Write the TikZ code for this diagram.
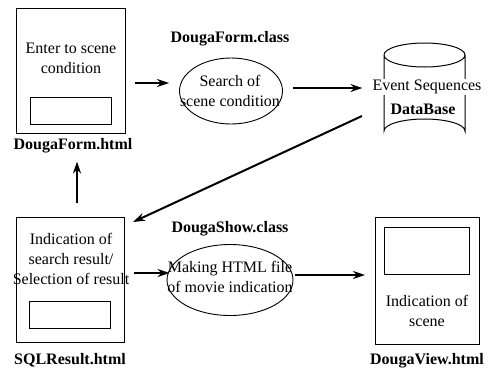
\documentclass[tikz,border=0pt]{standalone}
\usepackage{fontspec}
\setmainfont{Liberation Serif}
\usetikzlibrary{arrows.meta,shapes.geometric}
\begin{document}
\begin{tikzpicture}[x=1pt,y=-1pt,
  every node/.style={font=\fontsize{16}{20}\selectfont, inner sep=0pt},
  page/.style={draw, line width=1.1pt, anchor=north west},
  slot/.style={draw, line width=1pt, anchor=north west},
  proc/.style={draw, ellipse, line width=0.9pt},
  lbl/.style={font=\fontsize{16}{20}\selectfont\bfseries},
  arr/.style={line width=2pt, -{Stealth[length=12pt,width=8pt]}},
]
\useasboundingbox (0,0) rectangle (489,370);

% DougaForm.html
\node[page, minimum width=109pt, minimum height=125pt] (b1) at (16,8) {};
\node[slot, minimum width=81pt, minimum height=27pt] (s1) at (30,97) {};
\node[align=center] (t1) at (71,58.5) {Enter to scene\\condition};
\node[lbl] (l1) at (73,146) {DougaForm.html};

% DougaForm.class
\node[proc, minimum width=103pt, minimum height=66pt] (e1) at (231,91) {};
\node[align=center] (te1) at (230,90.5) {Search of\\scene condition};
\node[lbl] (le1) at (230,39) {DougaForm.class};

% Database cylinder
\draw[line width=1pt] (384,55) arc[start angle=180, end angle=540, x radius=40.5, y radius=12]
  (384,55) -- (384,131) arc[start angle=180, end angle=360, x radius=40.5, y radius=12] -- (465,55);
\node[fill=white, inner ysep=1pt] (tdb) at (427,87) {Event Sequences};
\node[lbl] (ldb) at (423,109) {DataBase};

% SQLResult.html
\node[page, minimum width=108pt, minimum height=125pt] (b2) at (16,217) {};
\node[slot, minimum width=81pt, minimum height=27pt] (s2) at (29,301) {};
\node[align=center] (t2) at (71,259) {Indication of\\search result/\\Selection of result};
\node[lbl] (l2) at (70,360) {SQLResult.html};

% DougaShow.class
\node[proc, minimum width=126pt, minimum height=71pt] (e2) at (230,280) {};
\node[align=center] (te2) at (230,276.5) {Making HTML file\\of movie indication};
\node[lbl] (le2) at (230,229) {DougaShow.class};

% DougaView.html
\node[page, minimum width=104pt, minimum height=127pt] (b3) at (375,217) {};
\node[slot, minimum width=85pt, minimum height=47pt] (s3) at (384,227) {};
\node[align=center] (t3) at (427,310.5) {Indication of\\scene};
\node[lbl] (l3) at (427,361) {DougaView.html};

% connectors
\coordinate (d1) at (362,116);
\coordinate (d2) at (133,222);
\draw[arr, shorten <=9pt, shorten >=10pt] (b1.east |- 0,83) -- (e1.west |- 0,83);
\draw[arr, shorten <=10pt, shorten >=10pt] (e1.east |- 0,88) -- (tdb.west |- 0,88);
\draw[arr] (d1) -- (d2);
\draw[arr, shorten <=14pt, shorten >=8pt] (b2.north -| 77,0) -- (l1.south -| 77,0);
\draw[arr, shorten <=9pt, shorten >=-3pt] (b2.east |- 0,273) -- (e2.west |- 0,273);
\draw[arr, shorten <=2pt, shorten >=10pt] (e2.east |- 0,275) -- (b3.west |- 0,275);
\end{tikzpicture}
\end{document}
